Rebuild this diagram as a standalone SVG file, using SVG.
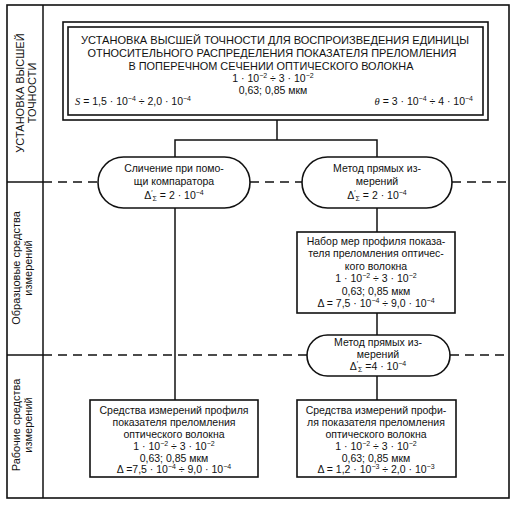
<svg xmlns="http://www.w3.org/2000/svg" width="518" height="508" viewBox="0 0 518 508">
<style>
text{font-family:"Liberation Sans",Arial,sans-serif;fill:#111;text-anchor:middle}
.t{font-size:10.5px}
.cap{font-size:11px}
.lab{font-size:11px}
.sup{font-size:7px;baseline-shift:4px}
.sub{font-size:7px;baseline-shift:-2px}
.it{font-family:"Liberation Serif",serif;font-style:italic}
.box{fill:#fff;stroke:#111;stroke-width:1.6}
.frame{fill:none;stroke:#111;stroke-width:1.6}
.ln{fill:none;stroke:#111;stroke-width:1.5}
.dash{fill:none;stroke:#111;stroke-width:1.5;stroke-dasharray:9,6}
</style>
<rect width="518" height="508" fill="#fff"/>
<g id="frame">
<rect class="frame" x="7" y="5" width="502" height="493"/>
<line class="ln" x1="43" y1="5" x2="43" y2="498"/>
<line class="ln" x1="7" y1="182" x2="43" y2="182"/>
<line class="ln" x1="7" y1="355" x2="43" y2="355"/>
</g>
<g id="row-labels">
<text class="lab" transform="translate(24,93) rotate(-90)">УСТАНОВКА ВЫСШЕЙ</text>
<text class="lab" transform="translate(36,93) rotate(-90)">ТОЧНОСТИ</text>
<text class="lab" transform="translate(20,268) rotate(-90)">Образцовые средства</text>
<text class="lab" transform="translate(32,268) rotate(-90)">измерений</text>
<text class="lab" transform="translate(20,425) rotate(-90)">Рабочие средства</text>
<text class="lab" transform="translate(32,425) rotate(-90)">измерений</text>
</g>
<g id="connectors">
<line class="dash" x1="43" y1="182" x2="98" y2="182"/>
<line class="dash" x1="250" y1="182" x2="302" y2="182"/>
<line class="dash" x1="452" y1="182" x2="509" y2="182"/>
<line class="dash" x1="43" y1="355" x2="307" y2="355"/>
<line class="dash" x1="450" y1="355" x2="509" y2="355"/>
<polyline class="ln" points="277,120 277,140"/>
<polyline class="ln" points="175,157 175,140 377,140 377,157"/>
<line class="ln" x1="175" y1="208" x2="175" y2="400"/>
<line class="ln" x1="377" y1="208" x2="377" y2="232"/>
<line class="ln" x1="377" y1="313" x2="377" y2="335"/>
<line class="ln" x1="377" y1="376" x2="377" y2="400"/>
</g>
<g id="top-box">
<rect class="box" x="63" y="22" width="425" height="98"/>
<rect class="frame" x="68" y="27" width="415" height="88"/>
<text class="cap" x="275" y="44" textLength="388" lengthAdjust="spacingAndGlyphs">УСТАНОВКА ВЫСШЕЙ ТОЧНОСТИ ДЛЯ ВОСПРОИЗВЕДЕНИЯ ЕДИНИЦЫ</text>
<text class="cap" x="272" y="57" textLength="369" lengthAdjust="spacingAndGlyphs">ОТНОСИТЕЛЬНОГО РАСПРЕДЕЛЕНИЯ ПОКАЗАТЕЛЯ ПРЕЛОМЛЕНИЯ</text>
<text class="cap" x="271" y="70" textLength="285" lengthAdjust="spacingAndGlyphs">В ПОПЕРЕЧНОМ СЕЧЕНИИ ОПТИЧЕСКОГО ВОЛОКНА</text>
<text class="t" x="273" y="82">1 · 10<tspan class="sup">−2</tspan> ÷ 3 · 10<tspan class="sup">−2</tspan></text>
<text class="t" x="273" y="94">0,63;  0,85 мкм</text>
<text class="t" x="75" y="105" style="text-anchor:start"><tspan class="it">S</tspan> = 1,5 · 10<tspan class="sup">−4</tspan> ÷ 2,0 · 10<tspan class="sup">−4</tspan></text>
<text class="t" x="473" y="105" style="text-anchor:end"><tspan class="it">θ</tspan> = 3 · 10<tspan class="sup">−4</tspan> ÷ 4 · 10<tspan class="sup">−4</tspan></text>
</g>
<g id="pill-comparator">
<rect class="box" x="98" y="157" width="152" height="51" rx="25.5"/>
<text class="t" x="174" y="172">Сличение при помо-</text>
<text class="t" x="174" y="185">щи компаратора</text>
<text class="t" x="174" y="199">Δ<tspan class="sup">′</tspan><tspan class="sub">Σ</tspan> = 2 · 10<tspan class="sup">−4</tspan></text>
</g>
<g id="pill-direct-1">
<rect class="box" x="302" y="157" width="150" height="51" rx="25.5"/>
<text class="t" x="377" y="172">Метод прямых из-</text>
<text class="t" x="377" y="185">мерений</text>
<text class="t" x="377" y="199">Δ<tspan class="sup">′</tspan><tspan class="sub">Σ</tspan> = 2 · 10<tspan class="sup">−4</tspan></text>
</g>
<g id="box-measures">
<rect class="box" x="297" y="232" width="158" height="81"/>
<text class="t" x="376" y="245">Набор мер профиля показа-</text>
<text class="t" x="376" y="257">теля преломления оптичес-</text>
<text class="t" x="376" y="270">кого волокна</text>
<text class="t" x="376" y="282">1 · 10<tspan class="sup">−2</tspan> ÷ 3 · 10<tspan class="sup">−2</tspan></text>
<text class="t" x="376" y="295">0,63;  0,85 мкм</text>
<text class="t" x="376" y="307">Δ = 7,5 · 10<tspan class="sup">−4</tspan> ÷ 9,0 · 10<tspan class="sup">−4</tspan></text>
</g>
<g id="pill-direct-2">
<rect class="box" x="307" y="335" width="143" height="41" rx="20.5"/>
<text class="t" x="378" y="346">Метод прямых из-</text>
<text class="t" x="378" y="358">мерений</text>
<text class="t" x="378" y="370">Δ<tspan class="sup">′</tspan><tspan class="sub">Σ</tspan> =4 · 10<tspan class="sup">−4</tspan></text>
</g>
<g id="box-working-1">
<rect class="box" x="90" y="400" width="168" height="77"/>
<text class="t" x="174" y="414">Средства измерений профиля</text>
<text class="t" x="174" y="426">показателя преломления</text>
<text class="t" x="174" y="438">оптического волокна</text>
<text class="t" x="174" y="450">1 · 10<tspan class="sup">−2</tspan> ÷ 3 · 10<tspan class="sup">−2</tspan></text>
<text class="t" x="174" y="462">0,63;  0,85 мкм</text>
<text class="t" x="174" y="473">Δ =7,5 · 10<tspan class="sup">−4</tspan> ÷ 9,0 · 10<tspan class="sup">−4</tspan></text>
</g>
<g id="box-working-2">
<rect class="box" x="297" y="400" width="159" height="77"/>
<text class="t" x="376" y="414">Средства измерений профи-</text>
<text class="t" x="376" y="426">ля показателя преломления</text>
<text class="t" x="376" y="438">оптического волокна</text>
<text class="t" x="376" y="450">1 · 10<tspan class="sup">−2</tspan> ÷ 3 · 10<tspan class="sup">−2</tspan></text>
<text class="t" x="376" y="462">0,63;  0,85 мкм</text>
<text class="t" x="376" y="473">Δ = 1,2 · 10<tspan class="sup">−3</tspan> ÷ 2,0 · 10<tspan class="sup">−3</tspan></text>
</g>
</svg>
